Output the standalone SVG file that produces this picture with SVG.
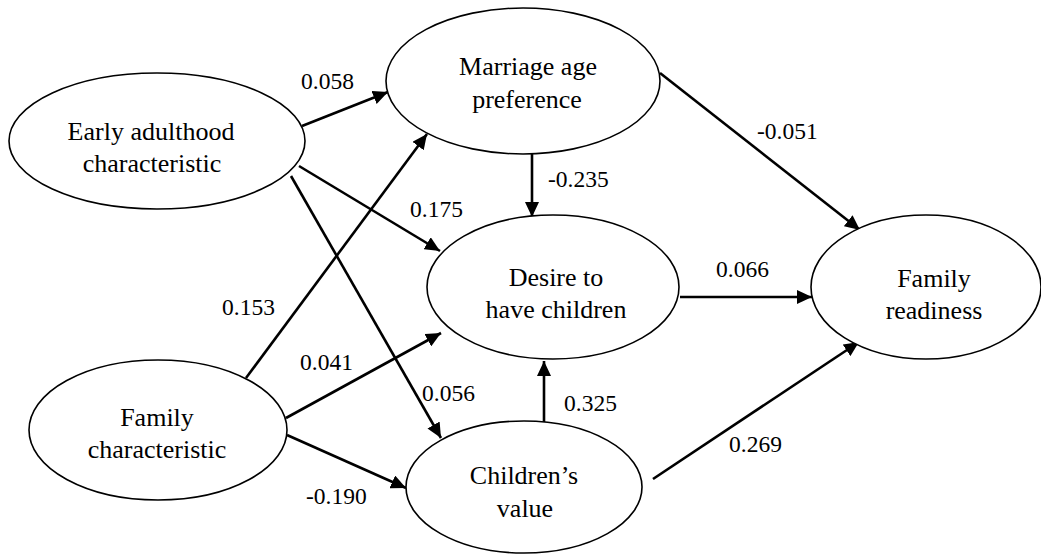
<svg xmlns="http://www.w3.org/2000/svg" width="1041" height="554" viewBox="0 0 1041 554">
<style>
text{font-family:"Liberation Serif",Tinos,"Times New Roman",Times,"DejaVu Serif","Noto Serif",serif}
.node ellipse{fill:#fff;stroke:#000;stroke-width:1.6}
.node text{font-size:26px;fill:#000;text-anchor:middle}
.lbl{font-size:23.5px;fill:#000}
#connectors line{stroke:#000;stroke-width:2.6}
</style>
<defs>
<marker id="ah" markerUnits="userSpaceOnUse" markerWidth="16" markerHeight="14" refX="15" refY="7" orient="auto">
<path d="M0,0 L15,7 L0,14 Z" fill="#000"/>
</marker>
</defs>
<rect width="1041" height="554" fill="#fff"/>
<g id="connectors" marker-end="url(#ah)">
<line x1="302" y1="126" x2="388" y2="92"/>
<line x1="299" y1="166" x2="440" y2="251"/>
<line x1="291" y1="176" x2="441" y2="438"/>
<line x1="246" y1="378" x2="427" y2="134"/>
<line x1="286" y1="418" x2="441" y2="333"/>
<line x1="287" y1="435" x2="406" y2="488"/>
<line x1="532" y1="154" x2="532" y2="217"/>
<line x1="660" y1="73" x2="860" y2="230"/>
<line x1="680" y1="297" x2="812" y2="297"/>
<line x1="653" y1="479" x2="859" y2="342"/>
<line x1="544" y1="422" x2="544" y2="361"/>
</g>
<g id="early" class="node">
<ellipse cx="157" cy="141" rx="148" ry="68"/>
<text x="151" y="140">Early adulthood</text>
<text x="152" y="172">characteristic</text>
</g>
<g id="marriage" class="node">
<ellipse cx="523" cy="81" rx="137" ry="73"/>
<text x="528" y="75">Marriage age</text>
<text x="527" y="108">preference</text>
</g>
<g id="family" class="node">
<ellipse cx="158" cy="430" rx="129" ry="70"/>
<text x="157" y="426">Family</text>
<text x="157" y="458">characteristic</text>
</g>
<g id="desire" class="node">
<ellipse cx="553" cy="287" rx="126" ry="72"/>
<text x="556" y="286">Desire to</text>
<text x="556" y="318">have children</text>
</g>
<g id="value" class="node">
<ellipse cx="524" cy="487" rx="118" ry="66"/>
<text x="524" y="484">Children’s</text>
<text x="525" y="517">value</text>
</g>
<g id="readiness" class="node">
<ellipse cx="926" cy="287" rx="115" ry="72"/>
<text x="934" y="287">Family</text>
<text x="934" y="319">readiness</text>
</g>
<g id="labels">
<text class="lbl" x="301" y="89">0.058</text>
<text class="lbl" x="410" y="217">0.175</text>
<text class="lbl" x="222" y="315">0.153</text>
<text class="lbl" x="300" y="370">0.041</text>
<text class="lbl" x="422" y="401">0.056</text>
<text class="lbl" x="564" y="411">0.325</text>
<text class="lbl" x="306" y="504">-0.190</text>
<text class="lbl" x="757" y="139">-0.051</text>
<text class="lbl" x="548" y="187">-0.235</text>
<text class="lbl" x="716" y="277">0.066</text>
<text class="lbl" x="729" y="452">0.269</text>
</g>
</svg>
